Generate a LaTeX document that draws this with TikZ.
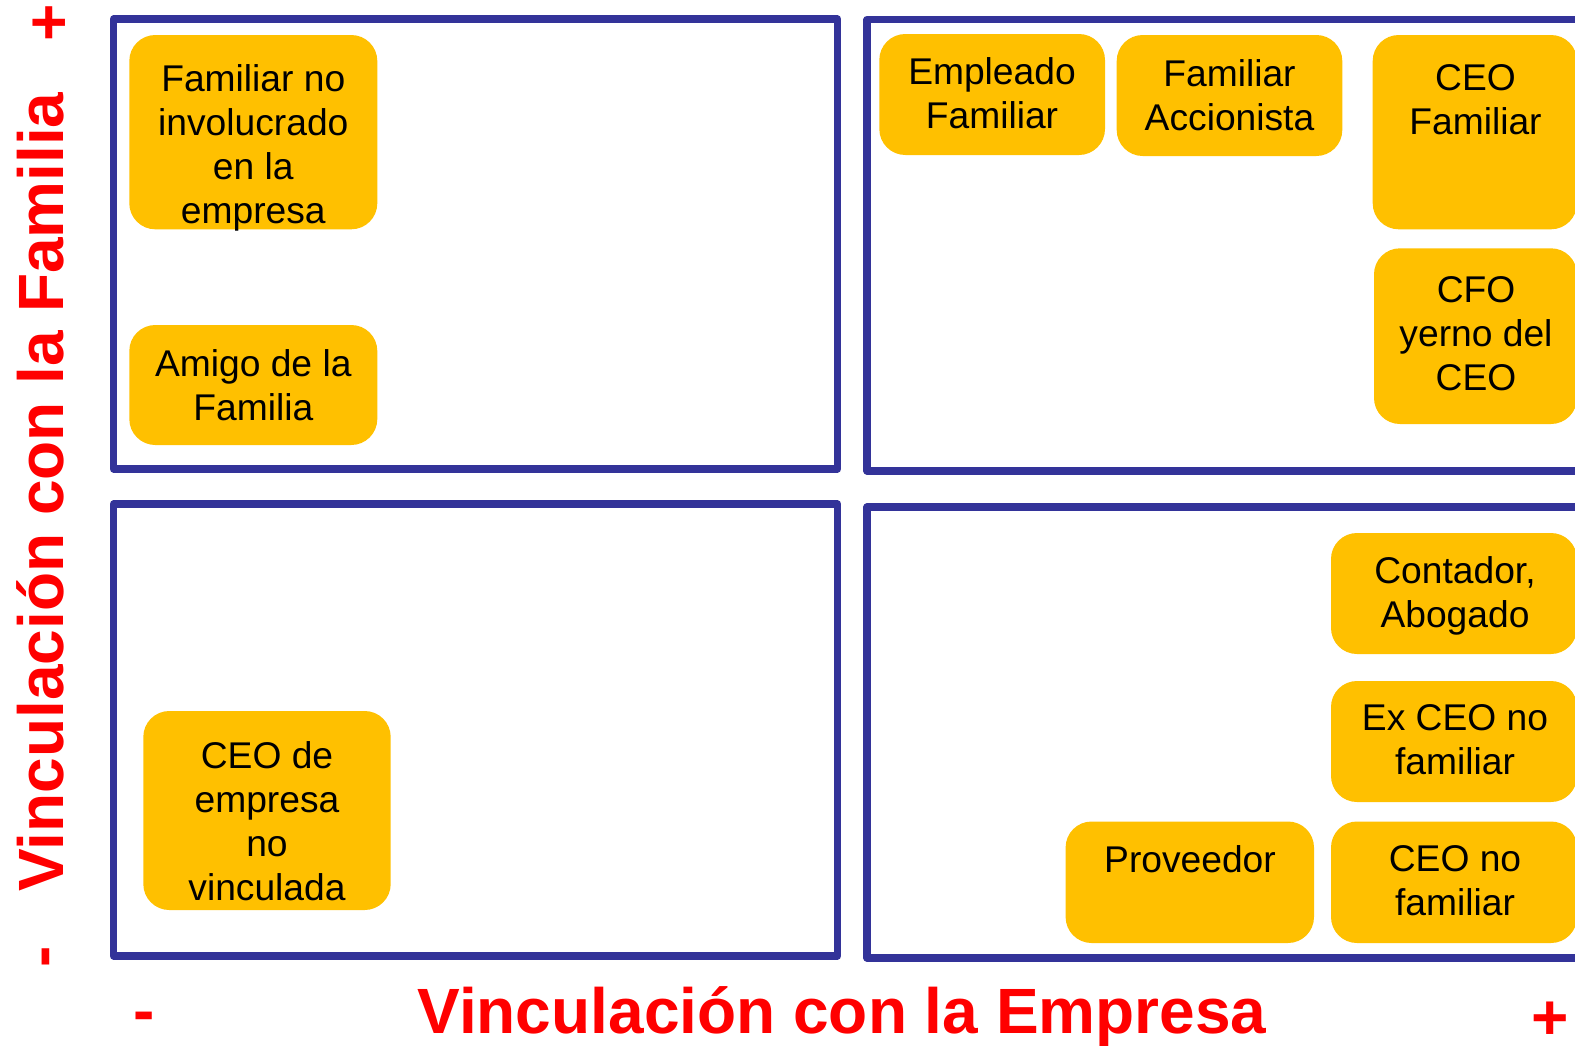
\documentclass[tikz,border=0pt]{standalone}
\usepackage{fontspec}
\setmainfont{Liberation Sans}
\definecolor{marco}{HTML}{333399}
\definecolor{amarillo}{HTML}{FFC000}
\definecolor{rojo}{HTML}{FF0000}

\begin{document}
\begin{tikzpicture}[x=0.5pt, y=-0.5pt,
    cuadrante/.style={draw=marco, line width=3.6pt, line join=round},
    caja/.style={fill=amarillo, rounded corners=13pt},
    rol/.style={anchor=north, align=center, inner sep=0pt, font=\fontsize{18.6}{22}\selectfont},
    eje/.style={text=rojo, inner sep=0pt, font=\fontsize{32}{38}\selectfont\bfseries}]
    \useasboundingbox (0,0) rectangle (1575,1045);
    \clip (0,0) rectangle (1575,1045);

    % cuadrantes
    \draw [cuadrante] (113.5,19) rectangle (837.5,469);
    \draw [cuadrante] (867,19.5) rectangle (1600,471);
    \draw [cuadrante] (113.5,504) rectangle (837.5,956);
    \draw [cuadrante] (867,507) rectangle (1600,958);

    % roles
    \fill [caja] (129.3,35) rectangle (377.3,229.3);
    \node [rol] (famnoinv) at (253.3,64) {Familiar no\\involucrado\\en la\\empresa};
    \fill [caja] (129.3,325) rectangle (377.3,445);
    \node [rol] (amigo) at (253.3,349) {Amigo de la\\Familia};

    \fill [caja] (879.3,34) rectangle (1105,155);
    \node [rol] (empleado) at (992,57) {Empleado\\Familiar};
    \fill [caja] (1116.7,35) rectangle (1342.3,156);
    \node [rol] (accionista) at (1229.5,59) {Familiar\\Accionista};
    \fill [caja] (1372.7,35) rectangle (1577,229.3);
    \node [rol] (ceofam) at (1475.5,64) {CEO\\Familiar};
    \fill [caja] (1374,248.3) rectangle (1577,424);
    \node [rol] (cfo) at (1476,276) {CFO\\yerno del\\CEO};

    \fill [caja] (143.3,711) rectangle (390.7,910);
    \node [rol] (ceoemp) at (267,741.5) {CEO de\\empresa\\no\\vinculada};

    \fill [caja] (1331,533) rectangle (1577,654);
    \node [rol] (contador) at (1455,556) {Contador,\\Abogado};
    \fill [caja] (1331,681) rectangle (1577,802);
    \node [rol] (exceo) at (1455,704) {Ex CEO no\\familiar};
    \fill [caja] (1065.6,821.5) rectangle (1314,943);
    \node [rol] (proveedor) at (1190,845) {Proveedor};
    \fill [caja] (1331,821.5) rectangle (1577,943);
    \node [rol] (ceonofam) at (1455,845) {CEO no\\familiar};

    % ejes
    \node [eje, anchor=base] (empresa) at (842,1033) {Vinculación con la Empresa};
    \node [eje, anchor=base] (menosx) at (144,1032) {-};
    \node [eje] (masx) at (1550,1021) {+};
    \node [eje, rotate=90, anchor=base] (familia) at (63.5,492) {Vinculación con la Familia};
    \node [eje, rotate=90, anchor=base] (menosy) at (62,957) {-};
    \node [eje, rotate=90] (masy) at (51.5,23) {+};
\end{tikzpicture}
\end{document}
